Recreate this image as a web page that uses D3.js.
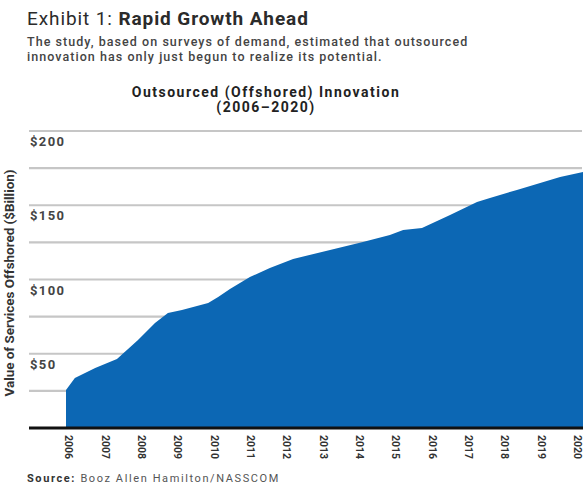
<!DOCTYPE html>
<html>
<head>
<meta charset="utf-8">
<script src="https://cdn.jsdelivr.net/npm/d3@7"></script>
<style>
  body { margin: 0; background: #fff; }
  text { font-family: Roboto, "DejaVu Sans", sans-serif; }
</style>
</head>
<body>
<script>
// values (year, $ billion)
var years = [2006, 2006.24, 2006.79, 2007.38, 2007.95, 2008.41, 2008.76, 2009.14, 2009.85,
  2010.12, 2010.44, 2010.98, 2011.52, 2012.15, 2013.15, 2014.04, 2014.77, 2015.13,
  2015.64, 2016.4, 2017.13, 2017.48, 2018.21, 2019.38, 2020];
var values = [25.6, 33.7, 40.4, 46.5, 59.3, 70.7, 77.4, 79.5, 84.2,
  88.2, 93.6, 101.7, 107.7, 113.8, 119.9, 125.3, 130.0, 133.3,
  134.7, 143.4, 152.2, 154.9, 160.3, 169.0, 172.4];
var yearTicks = d3.range(2006, 2021);
var gridTicks = [25, 50, 75, 100, 125, 150, 175, 200];
var labelTicks = [50, 100, 150, 200];

var w = 585, h = 484;
var left = 29, right = 583;

var svg = d3.select('body').append('svg')
  .attr('width', w)
  .attr('height', h);

var x = d3.scaleLinear().domain([2006, 2020]).range([66, 583]);
var y = d3.scaleLinear().domain([0, 200]).range([428, 131]);

// titles
var t1 = svg.append('text').attr('x', 27).attr('y', 25)
  .attr('font-size', 19).attr('letter-spacing', 0.9).attr('fill', '#2b2b2b');
t1.append('tspan').text('Exhibit 1: ');
t1.append('tspan').attr('font-weight', 'bold').text('Rapid Growth Ahead');

svg.append('text').attr('x', 27).attr('y', 45.5)
  .attr('font-size', 12.5).attr('font-weight', 500).attr('letter-spacing', 1.05).attr('fill', '#444')
  .text('The study, based on surveys of demand, estimated that outsourced');
svg.append('text').attr('x', 27).attr('y', 60.5)
  .attr('font-size', 12.5).attr('font-weight', 500).attr('letter-spacing', 1.05).attr('fill', '#444')
  .text('innovation has only just begun to realize its potential.');

svg.append('text').attr('x', 266).attr('y', 97)
  .attr('text-anchor', 'middle').attr('font-size', 14).attr('font-weight', 'bold')
  .attr('letter-spacing', 1.5).attr('fill', '#222')
  .text('Outsourced (Offshored) Innovation');
svg.append('text').attr('x', 266).attr('y', 112)
  .attr('text-anchor', 'middle').attr('font-size', 14).attr('font-weight', 'bold')
  .attr('letter-spacing', 1.5).attr('fill', '#222')
  .text('(2006\u20132020)');

// grid lines
svg.selectAll('line.grid')
  .data(gridTicks)
  .enter()
  .append('line')
  .attr('class', 'grid')
  .attr('x1', left).attr('x2', right - 1)
  .attr('y1', (d) => y(d)).attr('y2', (d) => y(d))
  .attr('stroke', '#c6c6c6')
  .attr('stroke-width', 2.2);

svg.selectAll('text.ylab')
  .data(labelTicks)
  .enter()
  .append('text')
  .attr('class', 'ylab')
  .attr('x', 30)
  .attr('y', (d) => y(d) + 15)
  .attr('font-size', 13).attr('font-weight', 'bold').attr('letter-spacing', 1.4).attr('fill', '#444')
  .text((d) => '$' + d);

// area
var area = d3.area()
  .x((d) => x(d[0]))
  .y0(y(0))
  .y1((d) => y(d[1]));

svg.append('path')
  .datum(years.map((d, i) => [d, values[i]]))
  .attr('d', area)
  .attr('fill', '#0c67b4');

// baseline
svg.append('line')
  .attr('x1', left).attr('x2', right)
  .attr('y1', y(0)).attr('y2', y(0))
  .attr('stroke', '#111').attr('stroke-width', 3);

// x labels
svg.selectAll('text.xlab')
  .data(yearTicks)
  .enter()
  .append('text')
  .attr('class', 'xlab')
  .attr('transform', (d) => `translate(${x(d) + 3 - (d - 2006) * 0.6},435) rotate(90)`)
  .attr('dy', '0.35em')
  .attr('font-family', '"DejaVu Sans Condensed", "DejaVu Sans", sans-serif')
  .attr('font-size', 10.5).attr('font-weight', 'bold').attr('fill', '#333')
  .text((d) => d);

// y axis title
svg.append('text')
  .attr('transform', 'translate(14,283) rotate(-90)')
  .attr('text-anchor', 'middle')
  .attr('font-family', '"DejaVu Sans Condensed", "DejaVu Sans", sans-serif')
  .attr('font-size', 12.5).attr('font-weight', 'bold').attr('fill', '#333')
  .attr('textLength', 227).attr('lengthAdjust', 'spacingAndGlyphs')
  .text('Value of Services Offshored ($Billion)');

// source
var s = svg.append('text').attr('x', 27).attr('y', 482)
  .attr('font-size', 11).attr('fill', '#555').attr('letter-spacing', 1.6);
s.append('tspan').attr('font-weight', 'bold').attr('fill', '#333').text('Source: ');
s.append('tspan').text('Booz Allen Hamilton/NASSCOM');
</script>
</body>
</html>
